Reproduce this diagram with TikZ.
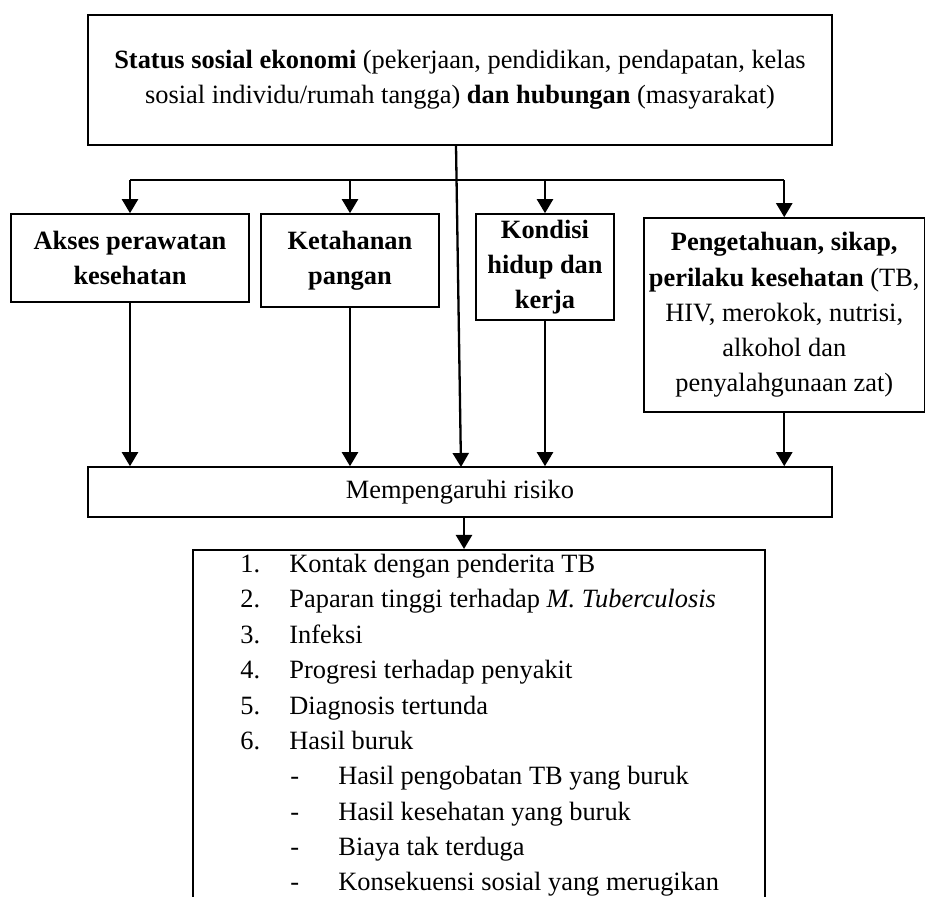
\documentclass[tikz,border=0pt]{standalone}
\usepackage{fontspec}
\setmainfont{Liberation Serif}
\usetikzlibrary{arrows.meta}
\newcommand{\diagfont}{\fontsize{13.2}{17.6}\selectfont}
\begin{document}
\begin{tikzpicture}[x=0.5pt,y=-0.5pt,
  box/.style={draw, line width=0.8pt, inner sep=0pt, align=center, font=\diagfont},
  sz/.style 2 args={minimum width=#1*0.5pt, minimum height=#2*0.5pt},
  item/.style={anchor=base west, inner sep=0pt, font=\diagfont},
  link/.style={line width=1.15pt},
  arr/.style={line width=1.15pt, -{Triangle[length=7pt,width=8pt]}}]
\useasboundingbox (0,0) rectangle (926,897);
\fill[white] (0,0) rectangle (926,897);
\clip (0,0) rectangle (926,897);

% boxes
\node[box, sz={744}{130}] (top) at (460,80)
  {\textbf{Status sosial ekonomi} (pekerjaan, pendidikan, pendapatan, kelas\\
   sosial individu/rumah tangga) \textbf{dan hubungan} (masyarakat)};
\node[box, sz={238}{88}] (akses) at (130,258)
  {\textbf{Akses perawatan}\\\textbf{kesehatan}};
\node[box, sz={178}{93}] (pangan) at (350,260.5)
  {\textbf{Ketahanan}\\\textbf{pangan}};
\node[box, sz={138}{106}] (kondisi) at (545,267)
  {\textbf{Kondisi}\\\textbf{hidup dan}\\\textbf{kerja}};
\node[box, sz={280.5}{194}] (tahu) at (784.25,315)
  {\textbf{Pengetahuan, sikap,}\\
   \textbf{perilaku kesehatan} (TB,\\
   HIV, merokok, nutrisi,\\
   alkohol dan\\
   penyalahgunaan zat)};
\node[box, sz={744}{50}] (risk) at (460,492) {Mempengaruhi risiko};
\node[box, sz={572}{420}, anchor=north] (hasil) at (479,549) {};

% list of outcomes
\node[item] (i1) at (240,573) {\makebox[24.5pt][l]{1.}Kontak dengan penderita TB};
\node[item] (i2) at (240,608) {\makebox[24.5pt][l]{2.}Paparan tinggi terhadap \textit{M. Tuberculosis}};
\node[item] (i3) at (240,643) {\makebox[24.5pt][l]{3.}Infeksi};
\node[item] (i4) at (240,678.5) {\makebox[24.5pt][l]{4.}Progresi terhadap penyakit};
\node[item] (i5) at (240,714) {\makebox[24.5pt][l]{5.}Diagnosis tertunda};
\node[item] (i6) at (240,749) {\makebox[24.5pt][l]{6.}Hasil buruk};
\node[item] (s1) at (290,784.5) {\makebox[24pt][l]{-}Hasil pengobatan TB yang buruk};
\node[item] (s2) at (290,820) {\makebox[24pt][l]{-}Hasil kesehatan yang buruk};
\node[item] (s3) at (290,855) {\makebox[24pt][l]{-}Biaya tak terduga};
\node[item] (s4) at (290,890.5) {\makebox[24pt][l]{-}Konsekuensi sosial yang merugikan};

% distribution bus
\coordinate (j)  at (456,145);
\coordinate (k)  at (461,467);
\coordinate (b1) at (130,180);
\coordinate (b2) at (350,180);
\coordinate (b3) at (545,180);
\coordinate (b4) at (784.25,180);
\draw[link] (b1) -- (b4);
\draw[arr] (b1) -- (akses.north);
\draw[arr] (b2) -- (pangan.north);
\draw[arr] (b3) -- (kondisi.north);
\draw[arr] (b4) -- (tahu.north);
\draw[arr] (j) -- (k);

% into the risk box
\draw[arr] (akses.south) -- (akses.south |- risk.north);
\draw[arr] (pangan.south) -- (pangan.south |- risk.north);
\draw[arr] (kondisi.south) -- (kondisi.south |- risk.north);
\draw[arr] (tahu.south) -- (tahu.south |- risk.north);

% risk to outcomes
\coordinate (m) at (464,517);
\draw[arr] (m) -- (m |- hasil.north);
\end{tikzpicture}
\end{document}
